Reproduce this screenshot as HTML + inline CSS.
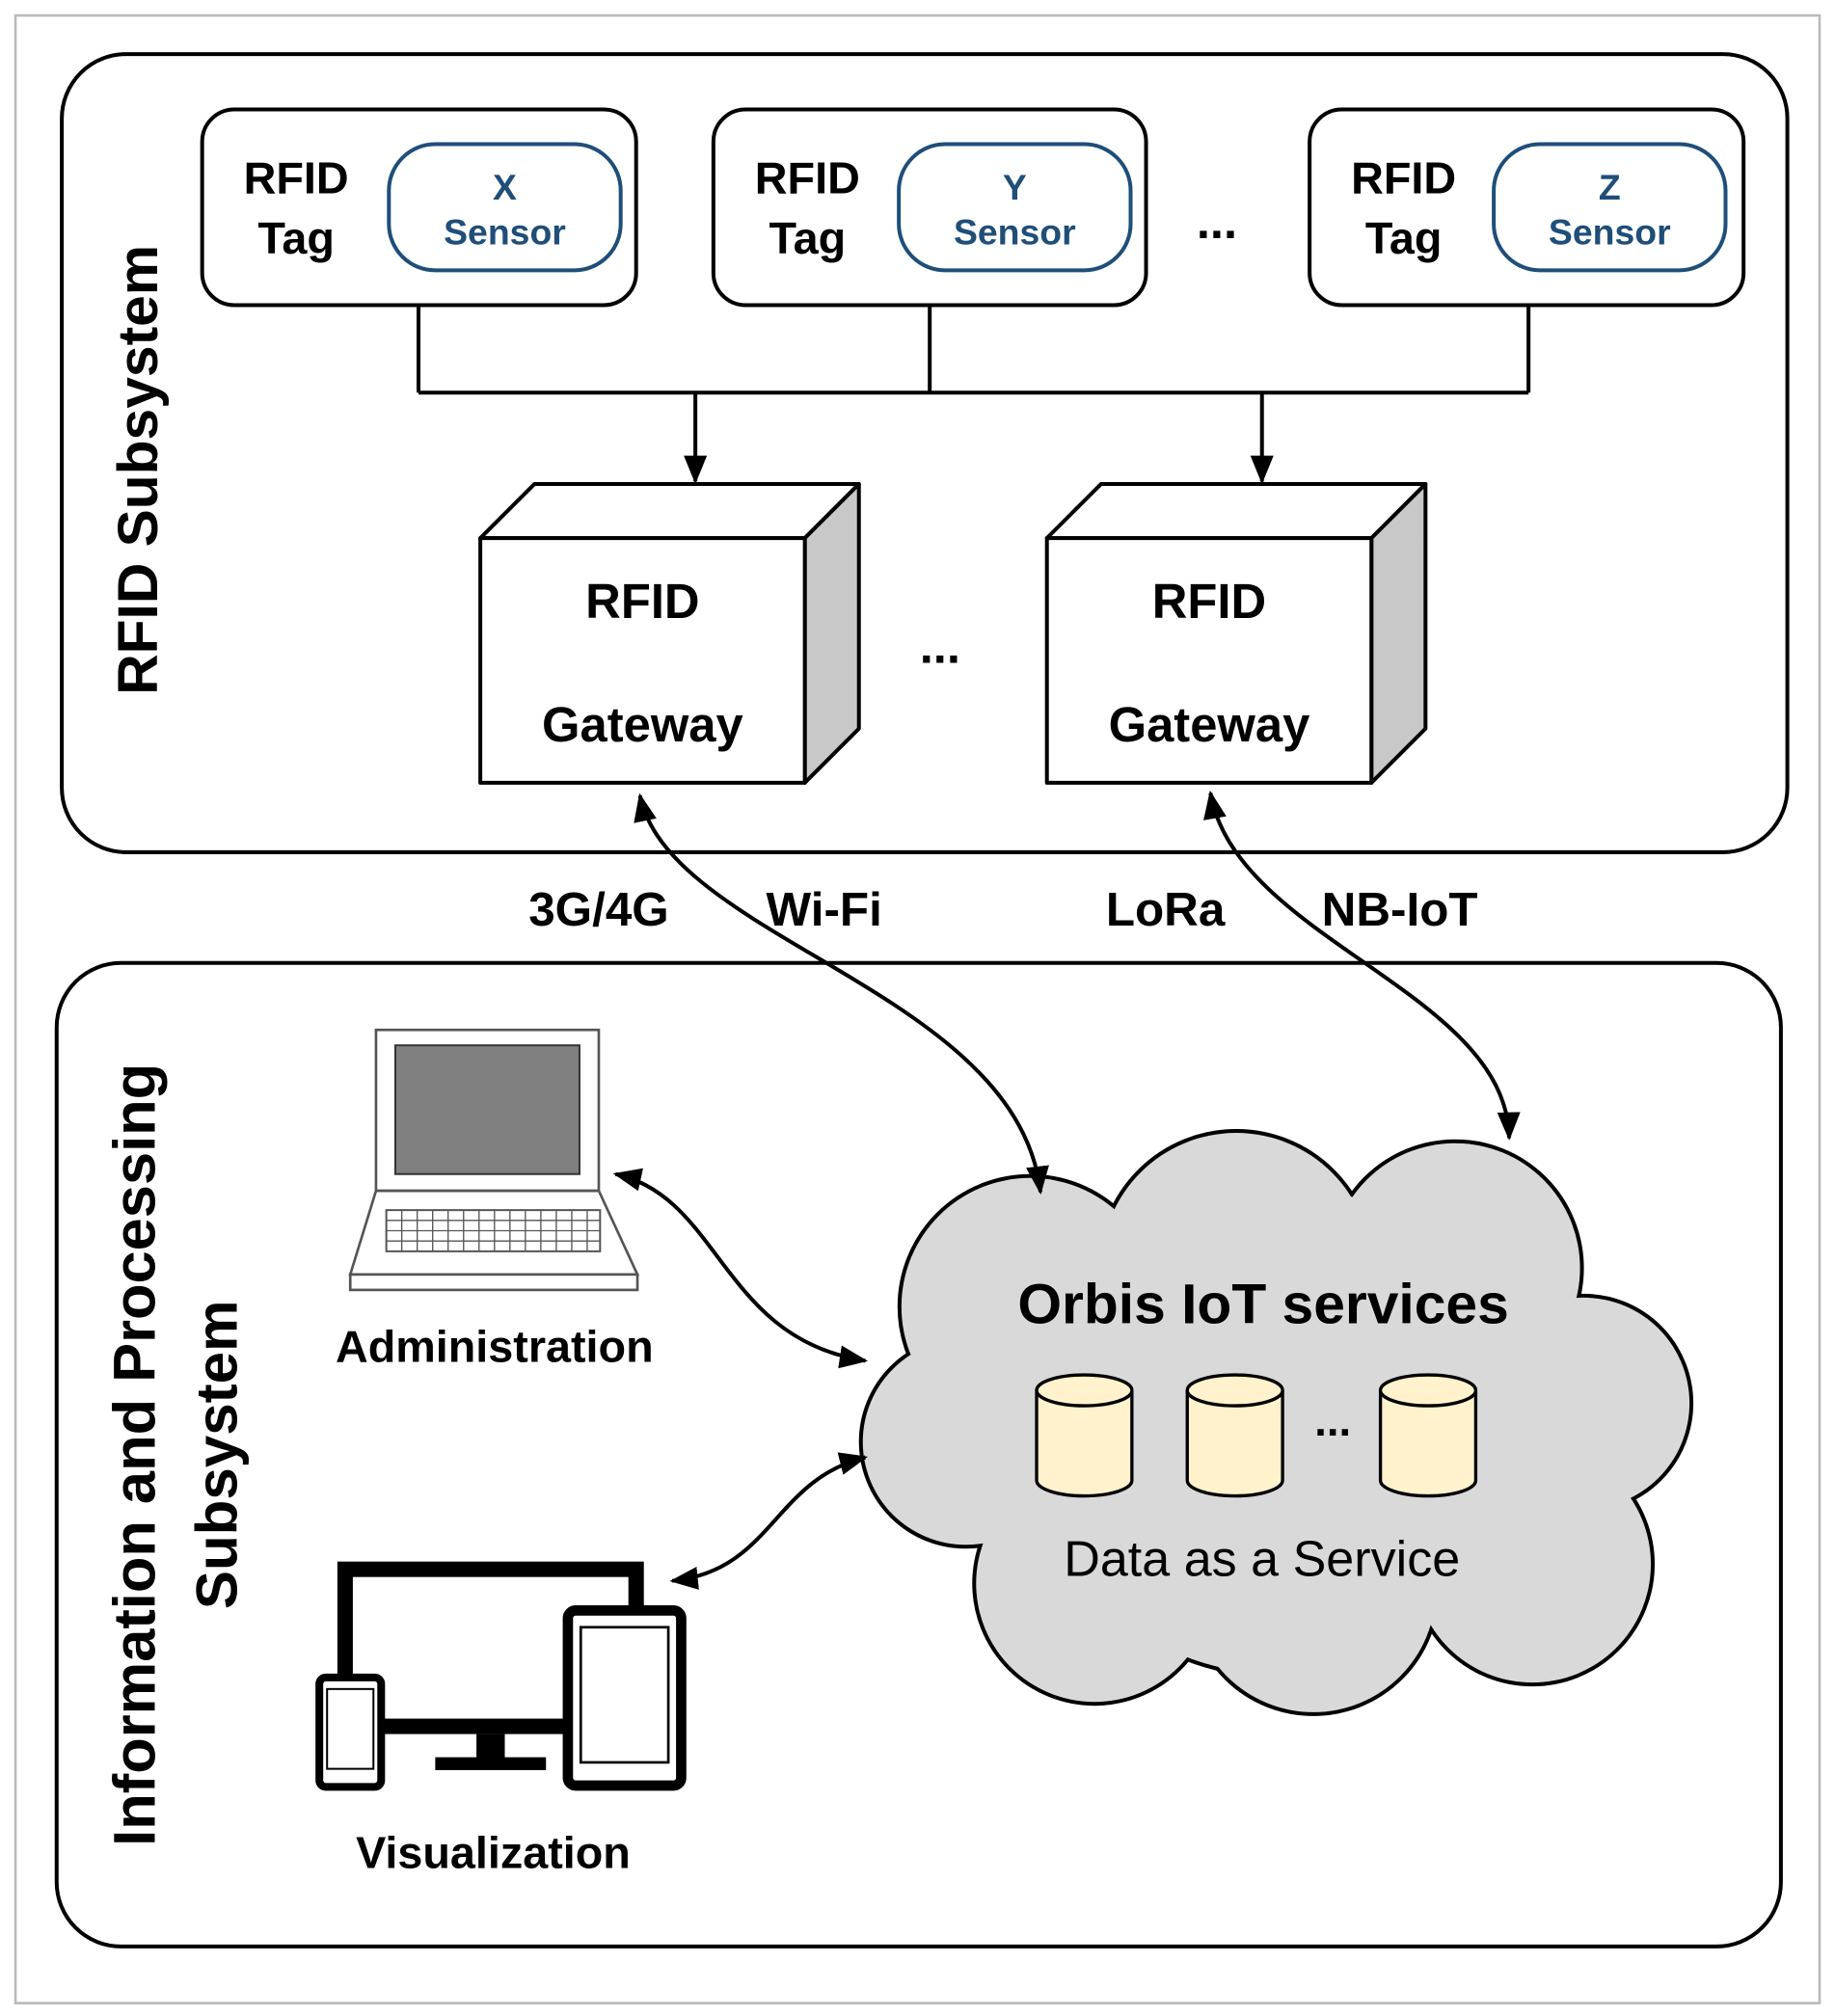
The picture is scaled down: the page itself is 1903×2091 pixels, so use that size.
<!DOCTYPE html>
<html><head><meta charset="utf-8"><style>
html,body{margin:0;padding:0;background:#fff;}
svg{display:block;}
text{font-family:"Liberation Sans",Arial,sans-serif;}
</style></head><body>
<svg width="1903" height="2091" viewBox="0 0 1425 1566" preserveAspectRatio="none" xmlns="http://www.w3.org/2000/svg">
<defs>
<marker id="ah2" markerWidth="22" markerHeight="22" refX="20" refY="11" orient="auto-start-reverse" markerUnits="userSpaceOnUse" viewBox="0 0 22 22">
<path d="M0,2 L22,11 L0,20 z" fill="#000"/></marker>
</defs>
<rect x="12" y="12" width="1401" height="1544" fill="none" stroke="#bbb" stroke-width="2"/>
<rect x="48" y="42" width="1340" height="620" rx="50" fill="none" stroke="#000" stroke-width="3"/>
<text transform="translate(122,365) rotate(-90)" text-anchor="middle" font-size="44" font-weight="bold">RFID Subsystem</text>
<g font-size="35" font-weight="bold" text-anchor="middle">
<rect x="157" y="85" width="337" height="152" rx="25" fill="#fff" stroke="#000" stroke-width="3"/>
<text x="230" y="150">RFID</text><text x="230" y="197">Tag</text>
<rect x="302" y="112" width="180" height="98" rx="36" fill="#fff" stroke="#1f4e79" stroke-width="3"/>
<text x="392" y="155" font-size="28" fill="#1f4e79">X</text><text x="392" y="190" font-size="28" fill="#1f4e79">Sensor</text>

<rect x="554" y="85" width="336" height="152" rx="25" fill="#fff" stroke="#000" stroke-width="3"/>
<text x="627" y="150">RFID</text><text x="627" y="197">Tag</text>
<rect x="698" y="112" width="180" height="98" rx="36" fill="#fff" stroke="#1f4e79" stroke-width="3"/>
<text x="788" y="155" font-size="28" fill="#1f4e79">Y</text><text x="788" y="190" font-size="28" fill="#1f4e79">Sensor</text>

<rect x="1017" y="85" width="337" height="152" rx="25" fill="#fff" stroke="#000" stroke-width="3"/>
<text x="1090" y="150">RFID</text><text x="1090" y="197">Tag</text>
<rect x="1160" y="112" width="180" height="98" rx="36" fill="#fff" stroke="#1f4e79" stroke-width="3"/>
<text x="1250" y="155" font-size="28" fill="#1f4e79">Z</text><text x="1250" y="190" font-size="28" fill="#1f4e79">Sensor</text>
<text x="945" y="185" font-size="38">...</text>
</g>
<g stroke="#000" stroke-width="3" fill="none">
<path d="M325,237 V305 M722,237 V305 M1187,237 V305 M325,305 H1187"/>
<line x1="540" y1="305" x2="540" y2="374" marker-end="url(#ah2)"/>
<line x1="980" y1="305" x2="980" y2="374" marker-end="url(#ah2)"/>
</g>
<g stroke="#000" stroke-width="3" stroke-linejoin="round">
<polygon points="373,418 415,376 667,376 625,418" fill="#fff"/>
<polygon points="625,418 667,376 667,566 625,608" fill="#c8c8c8"/>
<rect x="373" y="418" width="252" height="190" fill="#fff"/>
<polygon points="813,418 855,376 1107,376 1065,418" fill="#fff"/>
<polygon points="1065,418 1107,376 1107,566 1065,608" fill="#c8c8c8"/>
<rect x="813" y="418" width="252" height="190" fill="#fff"/>
</g>
<g font-size="38" font-weight="bold" text-anchor="middle">
<text x="499" y="480">RFID</text><text x="499" y="576">Gateway</text>
<text x="939" y="480">RFID</text><text x="939" y="576">Gateway</text>
<text x="730" y="515">...</text>
</g>
<g font-size="37" font-weight="bold" text-anchor="middle">
<text x="465" y="719">3G/4G</text><text x="640" y="719">Wi-Fi</text>
<text x="905" y="719">LoRa</text><text x="1087" y="719">NB-IoT</text>
</g>
<rect x="44" y="748" width="1339" height="764" rx="50" fill="none" stroke="#000" stroke-width="3"/>
<text transform="translate(120,1130) rotate(-90)" text-anchor="middle" font-size="46" font-weight="bold">Information and Processing</text>
<text transform="translate(184,1130) rotate(-90)" text-anchor="middle" font-size="45" font-weight="bold">Subsystem</text>
<g stroke="#000" stroke-width="6" fill="#d9d9d9">
<circle cx="800" cy="1015" r="100"/><circle cx="960" cy="985" r="105"/><circle cx="1130" cy="985" r="97"/>
<circle cx="1230" cy="1090" r="82"/><circle cx="1190" cy="1215" r="92"/><circle cx="1020" cy="1235" r="95"/>
<circle cx="850" cy="1230" r="92"/><circle cx="750" cy="1120" r="80"/><circle cx="990" cy="1110" r="190"/>
</g>
<g fill="#d9d9d9">
<circle cx="800" cy="1015" r="100"/><circle cx="960" cy="985" r="105"/><circle cx="1130" cy="985" r="97"/>
<circle cx="1230" cy="1090" r="82"/><circle cx="1190" cy="1215" r="92"/><circle cx="1020" cy="1235" r="95"/>
<circle cx="850" cy="1230" r="92"/><circle cx="750" cy="1120" r="80"/><circle cx="990" cy="1110" r="190"/>
</g>
<text x="981" y="1028" text-anchor="middle" font-size="44" font-weight="bold">Orbis IoT services</text>
<g stroke="#000" stroke-width="2.5" fill="#fff2cc">
<path d="M805,1080 V1150 A37,12 0 0 0 879,1150 V1080"/><ellipse cx="842" cy="1080" rx="37" ry="12"/>
<path d="M922,1080 V1150 A37,12 0 0 0 996,1150 V1080"/><ellipse cx="959" cy="1080" rx="37" ry="12"/>
<path d="M1072,1080 V1150 A37,12 0 0 0 1146,1150 V1080"/><ellipse cx="1109" cy="1080" rx="37" ry="12"/>
</g>
<text x="1035" y="1115" text-anchor="middle" font-size="34" font-weight="bold">...</text>
<text x="980" y="1224" text-anchor="middle" font-size="39">Data as a Service</text>
<g stroke="#000" stroke-width="3" fill="none">
<path d="M497,618 C520,730 790,770 808,926" marker-start="url(#ah2)" marker-end="url(#ah2)"/>
<path d="M940,616 C960,730 1170,770 1172,884" marker-start="url(#ah2)" marker-end="url(#ah2)"/>
<path d="M478,912 C560,930 560,1040 672,1057" marker-start="url(#ah2)" marker-end="url(#ah2)"/>
<path d="M672,1132 C600,1150 600,1220 522,1228" marker-start="url(#ah2)" marker-end="url(#ah2)"/>
</g>
<rect x="292" y="800" width="173" height="125" fill="#fff" stroke="#555" stroke-width="2"/>
<rect x="307" y="812" width="143" height="100" fill="#808080" stroke="#333" stroke-width="1.5"/>
<polygon points="292,925 465,925 495,990 272,990" fill="#fff" stroke="#555" stroke-width="2"/>
<rect x="272" y="990" width="223" height="12" fill="#fff" stroke="#555" stroke-width="2"/>
<rect x="300" y="940" width="166" height="32" fill="none" stroke="#555" stroke-width="1.5"/>
<g stroke="#555" stroke-width="1">
<path d="M300,948 H466 M300,956 H466 M300,964 H466"/>
<path d="M312,940V972 M324,940V972 M336,940V972 M348,940V972 M360,940V972 M372,940V972 M384,940V972 M396,940V972 M408,940V972 M420,940V972 M432,940V972 M444,940V972 M456,940V972"/>
</g>
<text x="384" y="1058" text-anchor="middle" font-size="35" font-weight="bold">Administration</text>
<rect x="268" y="1219" width="226" height="122" fill="#fff" stroke="#000" stroke-width="12"/>
<rect x="370" y="1347" width="22" height="20" fill="#000"/>
<rect x="338" y="1365" width="86" height="10" fill="#000"/>
<rect x="441" y="1251" width="88" height="136" rx="6" fill="#fff" stroke="#000" stroke-width="8"/>
<rect x="451" y="1264" width="68" height="105" fill="#fff" stroke="#000" stroke-width="2"/>
<rect x="248" y="1303" width="48" height="85" rx="5" fill="#fff" stroke="#000" stroke-width="6"/>
<rect x="254" y="1312" width="36" height="62" fill="#fff" stroke="#000" stroke-width="1.5"/>
<text x="383" y="1451" text-anchor="middle" font-size="35" font-weight="bold">Visualization</text>
</svg>
</body></html>
